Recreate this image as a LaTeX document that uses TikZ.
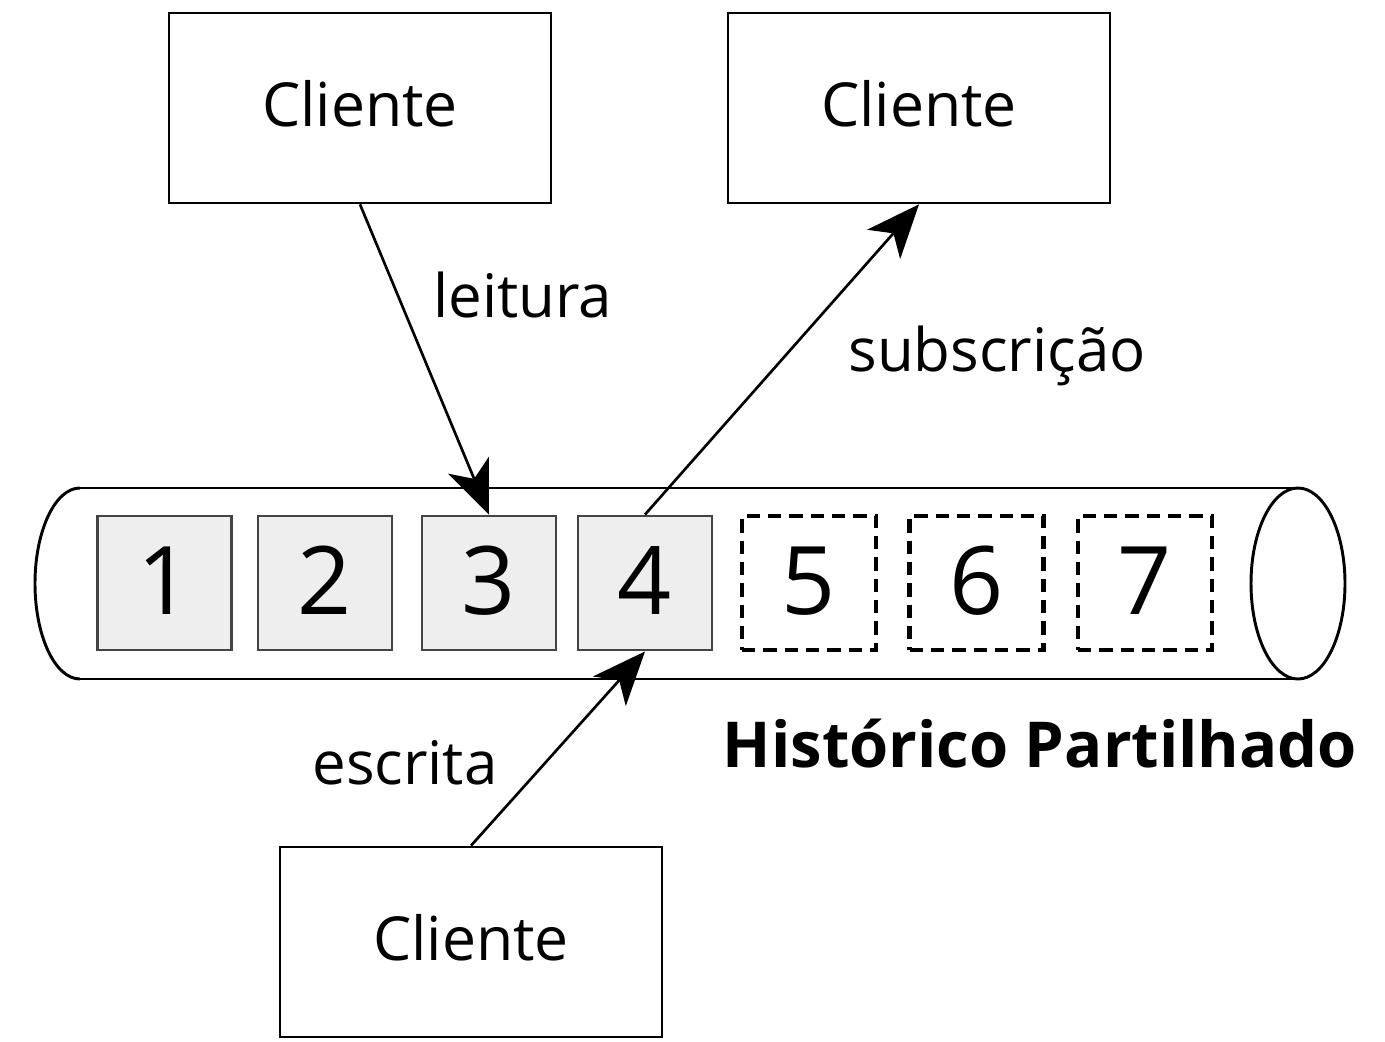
\documentclass[tikz,border=0pt]{standalone}
\usepackage{fontspec}
\setmainfont{Open Sans}
\usetikzlibrary{arrows.meta}
\definecolor{cellfill}{HTML}{EEEEEE}
\definecolor{cellline}{HTML}{444444}
\begin{document}
\begin{tikzpicture}[x=0.75pt,y=-0.75pt,
  client/.style={draw,line width=2pt,minimum width=382*0.75pt,minimum height=190*0.75pt,inner sep=0pt,text depth=7pt,font=\fontsize{45.5}{54}\selectfont},
  cell/.style={draw=cellline,fill=cellfill,line width=2.2pt,minimum width=134*0.75pt,minimum height=134*0.75pt,inner sep=0pt,text depth=4pt,font=\fontsize{71}{80}\selectfont},
  future/.style={draw=black,line width=3.2pt,dash pattern=on 10pt off 6pt,minimum width=134*0.75pt,minimum height=134*0.75pt,inner sep=0pt,text depth=4pt,font=\fontsize{71}{80}\selectfont},
  lbl/.style={font=\fontsize{45}{54}\selectfont,inner sep=0pt},
  conn/.style={line width=2pt,-{Stealth[length=40pt,width=33pt,inset=11pt]}}]
\useasboundingbox (0,0) rectangle (1385,1042);
% cylinder
\draw[line width=2.2pt] (80,488) -- (1298,488);
\draw[line width=2.2pt] (80,679) -- (1298,679);
\draw[line width=2.2pt] (80,488) arc[start angle=270,end angle=90,x radius=45,y radius=95.5];
\draw[line width=2.2pt] (1298,583.5) ellipse[x radius=47,y radius=95.5];
% clients
\node[client] (c1) at (360,108) {Cliente};
\node[client] (c2) at (919,108) {Cliente};
\node[client] (c3) at (471,942) {Cliente};
% cells
\node[cell] (b1) at (164.5,583) {1};
\node[cell] (b2) at (325,583) {2};
\node[cell] (b3) at (489,583) {3};
\node[cell] (b4) at (645,583) {4};
\node[future] (b5) at (809,583) {5};
\node[future] (b6) at (976.5,583) {6};
\node[future] (b7) at (1145,583) {7};
% connectors
\draw[conn] (c1.south) -- (b3.north);
\draw[conn] (b4.north) -- (c2.south);
\draw[conn] (c3.north) -- (b4.south);
% labels
\node[lbl] (l1) at (523,295) {leitura};
\node[lbl] (l2) at (997,356) {subscrição};
\node[lbl] (l3) at (405,763) {escrita};
\node[lbl,font=\fontsize{47.5}{56}\selectfont\bfseries] (title) at (1040,744) {Histórico Partilhado};
\end{tikzpicture}
\end{document}
